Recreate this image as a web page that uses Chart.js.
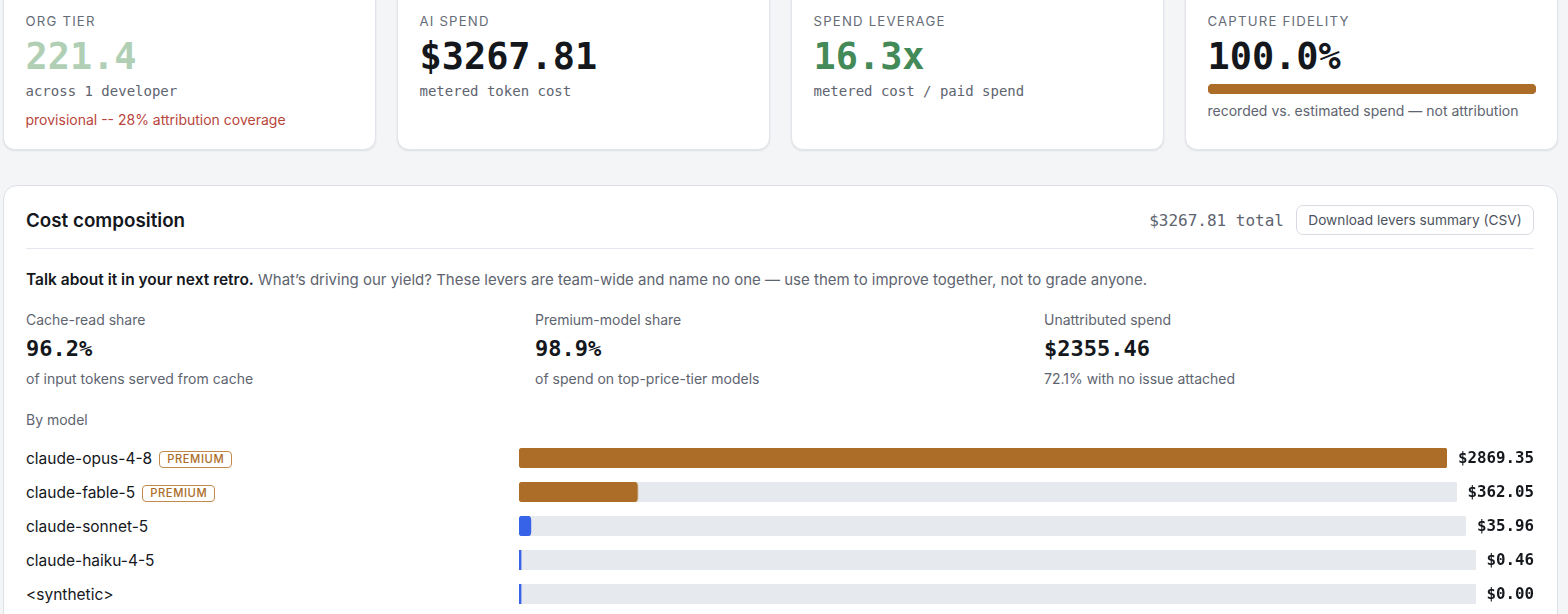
<!DOCTYPE html>
<html>
<head>
<meta charset="utf-8">
<script src="https://cdn.jsdelivr.net/npm/chart.js@4/dist/chart.umd.min.js"></script>
<style>
	html, body { margin: 0; height: 614px; overflow: hidden; background: #f4f5f7; }
	body { position: relative; width: 1568px; font-family: Inter, "Noto Sans", sans-serif; color: #14171c; }
	.mono { font-family: "DejaVu Sans Mono", monospace; }
	.cards { position: absolute; left: 3px; top: -20px; width: 1555px; display: flex; gap: 21px; }
	.card { flex: 1 1 0; height: 169.5px; box-sizing: border-box; padding: 31px 21.5px 0; background: #fff; border: 1px solid #e1e4ea; border-radius: 12px; box-shadow: 0 1px 2px rgba(20,25,40,.1); }
	.card .lab { font-size: 13.2px; line-height: 18px; letter-spacing: 1.2px; color: #666c77; }
	.card .val { font-size: 36.9px; font-weight: 700; line-height: 40px; margin-top: 7px; }
	.card .sub { font-size: 14px; line-height: 20px; margin-top: 4px; color: #5e646f; }
	.card .warn { font-size: 14px; line-height: 18px; margin-top: 10px; color: #b8453b; }
	.fid { height: 10px; margin-top: 7px; }
	.fid canvas, .track canvas { display: block; }
	.fidnote { font-size: 14px; line-height: 18px; margin-top: 8px; color: #5e646f; }
	.panel { position: absolute; left: 3px; top: 184.5px; width: 1555px; height: 520px; box-sizing: border-box; padding: 0 23px 0 22px; background: #fff; border: 1px solid #dde0e7; border-radius: 14px; }
	.head { display: flex; align-items: center; box-sizing: border-box; height: 63px; padding-top: 7px; border-bottom: 1px solid #e3e6ec; }
	.head h2 { margin: 0; flex: 1; font-size: 18.8px; font-weight: 600; }
	.total { font-size: 16px; color: #5e646f; margin-right: 12px; }
	.btn { box-sizing: border-box; width: 238px; height: 30px; line-height: 29px; text-align: center; font-size: 13.7px; color: #4d535e; border: 1px solid #d8dbe3; border-radius: 7px; }
	.retro { font-size: 15px; line-height: 20px; margin-top: 21.5px; color: #5e646f; white-space: nowrap; }
	.retro b { color: #14171c; font-size: 15.5px; font-weight: 600; }
	.levers { display: flex; margin-top: 21px; }
	.lever { flex: none; width: 509px; }
	.lever .l { font-size: 14px; line-height: 18px; color: #5e646f; }
	.lever .v { font-size: 22px; font-weight: 700; line-height: 28px; margin-top: 6px; }
	.lever .s { font-size: 14px; line-height: 18px; margin-top: 7px; color: #5e646f; }
	.bymodel { font-size: 14px; line-height: 18px; margin-top: 23px; color: #5e646f; }
	.rows { margin-top: 11.5px; }
	.row { display: flex; align-items: center; height: 34px; }
	.name { width: 493px; flex: none; font-size: 15.5px; position: relative; top: 1px; white-space: nowrap; }
	.badge { display: inline-block; margin-left: 7px; padding: 0 7px; font-size: 11.2px; line-height: 15px; letter-spacing: .6px; font-weight: 500; color: #ab6d28; border: 1px solid #c08a4e; border-radius: 4px; vertical-align: 1px; }
	.track { flex: 1 1 0; min-width: 0; height: 20px; margin-right: 10.5px; }
	.amt { flex: none; font-size: 15.8px; font-weight: 700; }
</style>
</head>
<body>
<div class="cards" id="cards"></div>
<div class="panel">
	<div class="head">
		<h2>Cost composition</h2>
		<span class="total mono" id="total"></span>
		<span class="btn">Download levers summary (CSV)</span>
	</div>
	<div class="retro"><b>Talk about it in your next retro.</b> What’s driving our yield? These levers are team-wide and name no one — use them to improve together, not to grade anyone.</div>
	<div class="levers" id="levers"></div>
	<div class="bymodel">By model</div>
	<div class="rows" id="rows"></div>
</div>
<script>
	// model breakdown
	const models = ["claude-opus-4-8", "claude-fable-5", "claude-sonnet-5", "claude-haiku-4-5", "<synthetic>"];
	const spend = [2869.35, 362.05, 35.96, 0.46, 0.00];
	const premium = [true, true, false, false, false];

	const totalSpend = "$3267.81";
	const fidelity = 100.0;

	const cardLabels = ["ORG TIER", "AI SPEND", "SPEND LEVERAGE", "CAPTURE FIDELITY"];
	const cardValues = ["221.4", totalSpend, "16.3x", fidelity.toFixed(1) + "%"];
	const cardColors = ["#b0cfb5", "#14171c", "#438a58", "#14171c"];
	const cardSubs = ["across 1 developer", "metered token cost", "metered cost / paid spend", ""];

	const leverLabels = ["Cache-read share", "Premium-model share", "Unattributed spend"];
	const leverValues = ["96.2%", "98.9%", "$2355.46"];
	const leverSubs = ["of input tokens served from cache", "of spend on top-price-tier models", "72.1% with no issue attached"];

	const BROWN = "#ab6d28", BLUE = "#3763e8", TRACK = "#e6e9ee";

	function el(parent, cls, text, tag) {
		const e = document.createElement(tag || "div");
		e.className = cls;
		if (text !== undefined) e.textContent = text;
		parent.appendChild(e);
		return e;
	}

	// one horizontal bar with its grey track behind it
	function drawBar(box, value, max, color, radius, minLen) {
		const canvas = document.createElement("canvas");
		box.appendChild(canvas);
		const thickness = box.clientHeight;
		new Chart(canvas, {
			type: "bar",
			data: {
				labels: [""],
				datasets: [
					{ data: [value], backgroundColor: color, minBarLength: minLen, order: 1 },
					{ data: [max], backgroundColor: TRACK, order: 2 }
				]
			},
			options: {
				indexAxis: "y",
				responsive: true,
				maintainAspectRatio: false,
				animation: false,
				events: [],
				layout: { padding: 0 },
				datasets: { bar: { grouped: false, barThickness: thickness, borderRadius: radius, borderSkipped: false } },
				plugins: { legend: { display: false }, tooltip: { enabled: false } },
				scales: {
					x: { display: false, min: 0, max: max },
					y: { display: false }
				}
			}
		});
	}

	const cards = document.getElementById("cards");
	cardLabels.forEach((label, i) => {
		const c = el(cards, "card");
		el(c, "lab", label);
		const v = el(c, "val mono", cardValues[i]);
		v.style.color = cardColors[i];
		if (cardSubs[i]) el(c, "sub mono", cardSubs[i]);
		if (i === 0) el(c, "warn", "provisional -- 28% attribution coverage");
		if (i === 3) {
			drawBar(el(c, "fid"), fidelity, 100, BROWN, 5, 0);
			el(c, "fidnote", "recorded vs. estimated spend — not attribution");
		}
	});

	document.getElementById("total").textContent = totalSpend + " total";

	const levers = document.getElementById("levers");
	leverLabels.forEach((label, i) => {
		const l = el(levers, "lever");
		el(l, "l", label);
		el(l, "v mono", leverValues[i]);
		el(l, "s", leverSubs[i]);
	});

	const rows = document.getElementById("rows");
	const maxSpend = Math.max(...spend);
	models.forEach((model, i) => {
		const r = el(rows, "row");
		const n = el(r, "name", model);
		if (premium[i]) el(n, "badge", "PREMIUM", "span");
		const t = el(r, "track");
		el(r, "amt mono", "$" + spend[i].toFixed(2));
		drawBar(t, spend[i], maxSpend, premium[i] ? BROWN : BLUE, 4, 2);
	});
</script>
</body>
</html>
